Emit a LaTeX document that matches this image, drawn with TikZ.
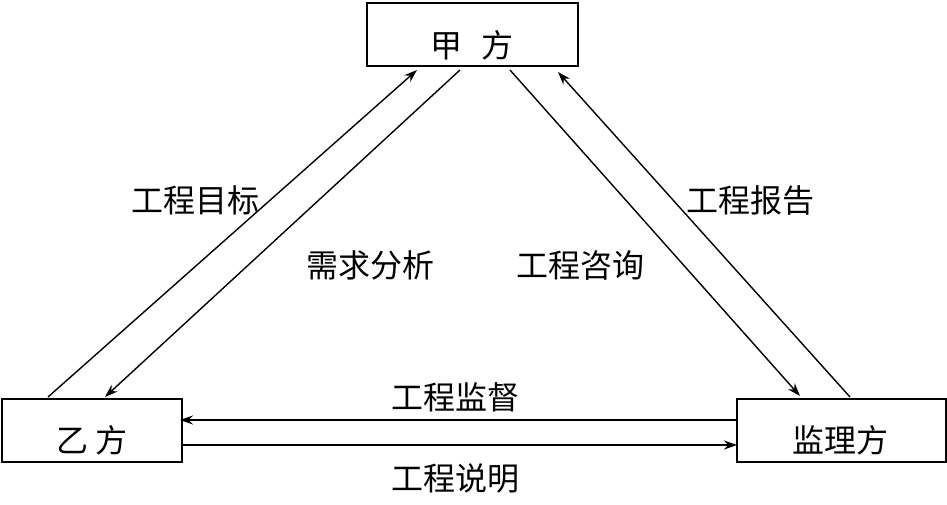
\documentclass[tikz,border=0pt]{standalone}
\usepackage{fontspec}
\setmainfont{Noto Sans CJK SC}
\usetikzlibrary{arrows.meta}
\begin{document}
\begin{tikzpicture}[x=1pt,y=-1pt,
  box/.style={draw,line width=1.5pt,minimum width=#1,minimum height=63pt,inner sep=0pt},
  lab/.style={font=\fontsize{32}{34}\selectfont,inner sep=0pt},
  arr/.style={line width=1.4pt,-{Stealth[length=13pt,width=9pt]}}]
\useasboundingbox (0,0) rectangle (947,504);
\node[box=211pt] (A) at (472.5,34.5) {};
\node[box=180pt] (B) at (92,430.5) {};
\node[box=209pt] (C) at (841.5,430.5) {};
\node[lab] (At) at (472,45) {甲\hspace{0.6em}方};
\node[lab] (Bt) at (92,440) {乙 方};
\node[lab] (Ct) at (840,440) {监理方};
\coordinate (p1) at (48,397); \coordinate (p2) at (417,70);
\coordinate (p3) at (460,70); \coordinate (p4) at (105,397);
\coordinate (p5) at (510,70); \coordinate (p6) at (800,396);
\coordinate (p7) at (850,397); \coordinate (p8) at (558,72);
\coordinate (p9) at (737,420); \coordinate (p10) at (180,420);
\coordinate (p11) at (182,445); \coordinate (p12) at (737,445);
\draw[arr] (p1) -- (p2);
\draw[arr] (p3) -- (p4);
\draw[arr] (p5) -- (p6);
\draw[arr] (p7) -- (p8);
\draw[arr] (p9) -- (p10);
\draw[arr] (p11) -- (p12);
\node[lab] (l1) at (195,200) {工程目标};
\node[lab] (l2) at (370,265) {需求分析};
\node[lab] (l3) at (580,265) {工程咨询};
\node[lab] (l4) at (750,200) {工程报告};
\node[lab] (l5) at (455,397) {工程监督};
\node[lab] (l6) at (455,478) {工程说明};
\end{tikzpicture}
\end{document}
